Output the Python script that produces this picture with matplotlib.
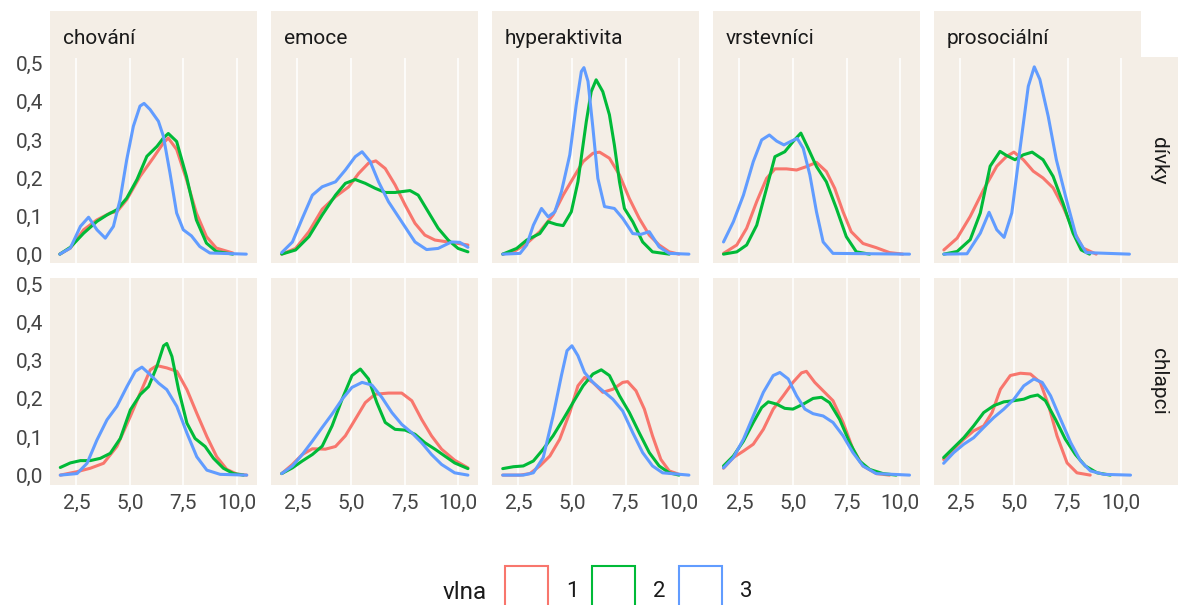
import matplotlib.pyplot as plt
from matplotlib.patches import Rectangle

plt.rcParams['font.family'] = ['Roboto', 'DejaVu Sans']

scales = ['chování', 'emoce', 'hyperaktivita', 'vrstevníci', 'prosociální']
groups = ['dívky', 'chlapci']
waves = ['1', '2', '3']
colors = ['#F8766D', '#00BA38', '#619CFF']
x_ticks = [2.5, 5.0, 7.5, 10.0]
y_ticks = [0.0, 0.1, 0.2, 0.3, 0.4, 0.5]

# --- dívky ---
d_chov_1x = [1.73, 2.22, 2.84, 3.46, 4.08, 4.4, 4.85, 5.47, 6.09, 6.56, 6.79, 7.18, 7.64, 8.1, 8.57, 9.03, 9.8]
d_chov_1y = [0.0, 0.016, 0.064, 0.09, 0.108, 0.112, 0.143, 0.204, 0.253, 0.292, 0.305, 0.275, 0.196, 0.108, 0.046, 0.016, 0.003]
d_chov_2x = [1.73, 2.22, 2.84, 3.46, 3.93, 4.4, 4.85, 5.33, 5.79, 6.26, 6.56, 6.79, 7.18, 7.64, 8.1, 8.57, 9.03, 9.8]
d_chov_2y = [0.0, 0.018, 0.055, 0.086, 0.103, 0.117, 0.147, 0.196, 0.257, 0.283, 0.305, 0.317, 0.296, 0.204, 0.09, 0.029, 0.007, 0.0]
d_chov_3x = [1.73, 2.22, 2.69, 3.07, 3.46, 3.85, 4.23, 4.54, 4.85, 5.16, 5.47, 5.66, 5.94, 6.33, 6.56, 6.87, 7.18, 7.49, 7.87, 8.26, 8.73, 10.43]
d_chov_3y = [0.0, 0.016, 0.073, 0.097, 0.064, 0.042, 0.073, 0.143, 0.248, 0.336, 0.389, 0.396, 0.38, 0.349, 0.31, 0.213, 0.108, 0.064, 0.048, 0.02, 0.003, 0.0]

d_emo_1x = [1.77, 2.42, 3.04, 3.66, 4.28, 4.9, 5.36, 5.82, 6.16, 6.6, 7.06, 7.53, 7.99, 8.45, 8.92, 9.53, 10.0, 10.46]
d_emo_1y = [0.0, 0.015, 0.059, 0.118, 0.151, 0.177, 0.212, 0.239, 0.245, 0.225, 0.182, 0.129, 0.081, 0.05, 0.037, 0.032, 0.028, 0.024]
d_emo_2x = [1.77, 2.42, 3.04, 3.66, 4.28, 4.74, 5.2, 5.67, 6.13, 6.6, 7.06, 7.76, 8.14, 8.61, 9.07, 9.54, 10.0, 10.46]
d_emo_2y = [0.0, 0.011, 0.046, 0.103, 0.155, 0.186, 0.196, 0.186, 0.173, 0.162, 0.162, 0.167, 0.155, 0.111, 0.068, 0.037, 0.015, 0.006]
d_emo_3x = [1.77, 2.27, 2.73, 3.2, 3.66, 4.28, 4.74, 5.2, 5.52, 5.9, 6.29, 6.75, 7.37, 7.99, 8.53, 9.07, 9.69, 10.08, 10.46]
d_emo_3y = [0.004, 0.032, 0.094, 0.155, 0.177, 0.19, 0.221, 0.256, 0.269, 0.243, 0.19, 0.138, 0.085, 0.032, 0.012, 0.015, 0.032, 0.031, 0.018]

d_hyp_1x = [1.77, 2.27, 2.89, 3.5, 4.12, 4.59, 5.05, 5.52, 5.98, 6.29, 6.75, 7.22, 7.68, 8.14, 8.61, 9.07, 9.54, 10.0]
d_hyp_1y = [0.0, 0.006, 0.028, 0.059, 0.103, 0.155, 0.199, 0.243, 0.265, 0.268, 0.252, 0.208, 0.146, 0.094, 0.05, 0.024, 0.006, 0.0]
d_hyp_2x = [1.77, 2.42, 2.89, 3.5, 3.89, 4.28, 4.59, 4.97, 5.28, 5.67, 5.9, 6.13, 6.44, 6.75, 6.98, 7.22, 7.45, 7.84, 8.3, 8.76, 9.54]
d_hyp_2y = [0.0, 0.015, 0.037, 0.054, 0.085, 0.078, 0.075, 0.111, 0.19, 0.348, 0.427, 0.458, 0.427, 0.366, 0.287, 0.19, 0.12, 0.085, 0.032, 0.006, 0.0]
d_hyp_3x = [1.77, 2.58, 2.89, 3.2, 3.58, 3.89, 4.2, 4.51, 4.9, 5.2, 5.44, 5.56, 5.75, 5.98, 6.21, 6.52, 6.98, 7.37, 7.84, 8.22, 8.61, 9.07, 9.54, 10.46]
d_hyp_3y = [0.0, 0.002, 0.024, 0.076, 0.12, 0.098, 0.111, 0.164, 0.261, 0.392, 0.48, 0.49, 0.454, 0.331, 0.199, 0.125, 0.12, 0.094, 0.054, 0.052, 0.059, 0.019, 0.002, 0.0]

d_vrs_1x = [1.76, 2.38, 2.84, 3.31, 3.77, 4.16, 4.7, 5.17, 5.63, 6.1, 6.56, 6.95, 7.34, 7.72, 8.27, 8.89, 9.51, 10.13]
d_vrs_1y = [0.002, 0.024, 0.068, 0.138, 0.199, 0.224, 0.224, 0.221, 0.23, 0.241, 0.217, 0.173, 0.111, 0.059, 0.028, 0.017, 0.004, 0.0]
d_vrs_2x = [1.76, 2.38, 2.84, 3.31, 3.77, 4.16, 4.62, 5.01, 5.37, 5.71, 6.1, 6.56, 7.03, 7.49, 7.96, 8.58]
d_vrs_2y = [0.0, 0.006, 0.024, 0.076, 0.173, 0.256, 0.269, 0.296, 0.318, 0.278, 0.23, 0.19, 0.12, 0.046, 0.006, 0.0]
d_vrs_3x = [1.76, 2.22, 2.69, 3.15, 3.54, 3.9, 4.24, 4.58, 4.93, 5.2, 5.48, 5.79, 6.1, 6.41, 6.87, 10.44]
d_vrs_3y = [0.032, 0.085, 0.155, 0.243, 0.3, 0.313, 0.297, 0.287, 0.297, 0.304, 0.278, 0.208, 0.111, 0.032, 0.002, 0.0]

d_pro_1x = [1.73, 2.35, 2.96, 3.58, 4.2, 4.66, 5.0, 5.44, 5.9, 6.36, 6.83, 7.29, 7.76, 8.22, 8.84]
d_pro_1y = [0.011, 0.042, 0.099, 0.169, 0.231, 0.257, 0.268, 0.248, 0.218, 0.2, 0.174, 0.125, 0.064, 0.016, 0.0]
d_pro_2x = [1.73, 2.35, 2.96, 3.43, 3.89, 4.35, 4.66, 5.05, 5.44, 5.85, 6.36, 6.83, 7.29, 7.76, 8.14, 8.53]
d_pro_2y = [0.0, 0.007, 0.038, 0.108, 0.231, 0.27, 0.259, 0.248, 0.261, 0.268, 0.248, 0.204, 0.134, 0.055, 0.011, 0.0]
d_pro_3x = [1.73, 2.81, 3.43, 3.84, 4.2, 4.54, 4.9, 5.28, 5.67, 5.95, 6.21, 6.6, 6.98, 7.45, 7.91, 8.37, 10.39]
d_pro_3y = [0.0, 0.001, 0.055, 0.11, 0.064, 0.044, 0.108, 0.275, 0.441, 0.492, 0.459, 0.362, 0.248, 0.143, 0.046, 0.004, 0.0]

# --- chlapci ---
c_chov_1x = [1.75, 2.53, 3.15, 3.77, 4.39, 5.02, 5.48, 5.95, 6.26, 6.72, 7.19, 7.66, 8.12, 8.59, 9.05, 9.52, 9.98, 10.45]
c_chov_1y = [0.0, 0.009, 0.018, 0.031, 0.075, 0.154, 0.215, 0.276, 0.287, 0.281, 0.272, 0.224, 0.162, 0.101, 0.048, 0.015, 0.003, 0.0]
c_chov_2x = [1.75, 2.22, 2.69, 3.15, 3.62, 4.08, 4.55, 5.02, 5.48, 5.87, 6.26, 6.57, 6.72, 6.96, 7.27, 7.66, 8.04, 8.51, 8.9, 9.36, 9.83, 10.3]
c_chov_2y = [0.02, 0.032, 0.038, 0.038, 0.044, 0.057, 0.096, 0.171, 0.211, 0.232, 0.285, 0.339, 0.345, 0.311, 0.224, 0.136, 0.096, 0.075, 0.044, 0.018, 0.004, 0.0]
c_chov_3x = [1.75, 2.53, 3.0, 3.46, 3.93, 4.39, 4.86, 5.25, 5.56, 5.95, 6.34, 6.72, 7.19, 7.66, 8.12, 8.59, 9.21, 10.45]
c_chov_3y = [0.0, 0.004, 0.031, 0.092, 0.145, 0.18, 0.232, 0.272, 0.283, 0.263, 0.241, 0.224, 0.18, 0.11, 0.048, 0.013, 0.002, 0.0]

c_emo_1x = [1.77, 2.27, 2.73, 3.2, 3.81, 4.28, 4.74, 5.2, 5.67, 6.13, 6.75, 7.37, 7.84, 8.3, 8.76, 9.23, 9.84, 10.46]
c_emo_1y = [0.004, 0.028, 0.054, 0.069, 0.068, 0.075, 0.103, 0.146, 0.19, 0.212, 0.215, 0.215, 0.195, 0.146, 0.103, 0.068, 0.039, 0.019]
c_emo_2x = [1.77, 2.27, 2.73, 3.2, 3.66, 4.12, 4.59, 5.05, 5.44, 5.82, 6.21, 6.6, 7.06, 7.53, 7.99, 8.45, 8.92, 9.38, 9.84, 10.46]
c_emo_2y = [0.004, 0.019, 0.037, 0.054, 0.076, 0.129, 0.199, 0.261, 0.278, 0.252, 0.19, 0.138, 0.12, 0.118, 0.107, 0.085, 0.068, 0.05, 0.032, 0.017]
c_emo_3x = [1.77, 2.27, 2.73, 3.2, 3.66, 4.12, 4.59, 5.05, 5.52, 5.98, 6.44, 6.91, 7.37, 7.84, 8.3, 8.76, 9.23, 9.84, 10.46]
c_emo_3y = [0.004, 0.024, 0.054, 0.089, 0.125, 0.16, 0.199, 0.23, 0.243, 0.236, 0.204, 0.164, 0.133, 0.111, 0.085, 0.054, 0.028, 0.006, 0.0]

c_hyp_1x = [1.77, 2.58, 3.04, 3.5, 3.97, 4.43, 4.9, 5.28, 5.59, 5.98, 6.44, 6.91, 7.37, 7.6, 7.99, 8.38, 8.76, 9.15, 9.54, 10.0]
c_hyp_1y = [0.0, 0.0, 0.004, 0.024, 0.05, 0.094, 0.164, 0.234, 0.256, 0.243, 0.217, 0.225, 0.243, 0.245, 0.221, 0.173, 0.103, 0.041, 0.011, 0.002]
c_hyp_2x = [1.77, 2.27, 2.73, 3.2, 3.66, 4.12, 4.59, 5.05, 5.52, 5.98, 6.37, 6.75, 7.22, 7.68, 8.14, 8.61, 9.07, 9.54, 10.0]
c_hyp_2y = [0.017, 0.022, 0.024, 0.037, 0.068, 0.103, 0.146, 0.19, 0.234, 0.265, 0.276, 0.261, 0.208, 0.164, 0.111, 0.059, 0.024, 0.006, 0.0]
c_hyp_3x = [1.77, 2.73, 3.2, 3.66, 4.12, 4.51, 4.77, 5.0, 5.28, 5.59, 5.98, 6.44, 6.91, 7.37, 7.84, 8.3, 8.76, 9.23, 10.46]
c_hyp_3y = [0.0, 0.0, 0.006, 0.046, 0.155, 0.261, 0.326, 0.339, 0.313, 0.269, 0.243, 0.221, 0.199, 0.168, 0.111, 0.059, 0.024, 0.006, 0.0]

c_vrs_1x = [1.76, 2.22, 2.69, 3.15, 3.62, 4.08, 4.55, 5.0, 5.4, 5.63, 6.02, 6.41, 6.87, 7.34, 7.8, 8.27, 8.89, 9.51]
c_vrs_1y = [0.018, 0.046, 0.063, 0.081, 0.12, 0.173, 0.208, 0.243, 0.268, 0.272, 0.243, 0.221, 0.195, 0.138, 0.068, 0.024, 0.004, 0.0]
c_vrs_2x = [1.76, 2.22, 2.69, 3.15, 3.54, 3.85, 4.24, 4.62, 5.0, 5.48, 5.94, 6.33, 6.71, 7.18, 7.65, 8.11, 8.58, 9.2, 9.82]
c_vrs_2y = [0.024, 0.05, 0.089, 0.138, 0.177, 0.192, 0.186, 0.175, 0.173, 0.186, 0.201, 0.204, 0.19, 0.146, 0.085, 0.037, 0.015, 0.004, 0.0]
c_vrs_3x = [1.76, 2.22, 2.69, 3.15, 3.62, 4.08, 4.39, 4.78, 5.17, 5.56, 5.94, 6.41, 6.87, 7.34, 7.8, 8.27, 8.89, 10.44]
c_vrs_3y = [0.019, 0.046, 0.094, 0.155, 0.217, 0.261, 0.269, 0.252, 0.208, 0.173, 0.161, 0.155, 0.138, 0.103, 0.059, 0.024, 0.004, 0.0]

c_pro_1x = [1.72, 2.19, 2.66, 3.12, 3.59, 3.98, 4.37, 4.83, 5.3, 5.77, 6.23, 6.62, 7.01, 7.48, 7.94, 8.56]
c_pro_1y = [0.041, 0.068, 0.094, 0.116, 0.129, 0.164, 0.225, 0.261, 0.267, 0.265, 0.243, 0.182, 0.103, 0.032, 0.006, 0.0]
c_pro_2x = [1.72, 2.19, 2.66, 3.12, 3.59, 4.06, 4.53, 5.0, 5.46, 5.77, 6.11, 6.47, 6.94, 7.4, 7.87, 8.33, 8.88, 9.5]
c_pro_2y = [0.046, 0.072, 0.098, 0.129, 0.164, 0.182, 0.192, 0.195, 0.199, 0.206, 0.21, 0.195, 0.146, 0.094, 0.054, 0.024, 0.006, 0.0]
c_pro_3x = [1.72, 2.19, 2.66, 3.12, 3.59, 4.06, 4.53, 5.0, 5.46, 5.93, 6.32, 6.71, 7.18, 7.65, 8.11, 8.57, 9.2, 10.44]
c_pro_3y = [0.031, 0.059, 0.081, 0.098, 0.125, 0.151, 0.173, 0.199, 0.234, 0.252, 0.243, 0.208, 0.146, 0.085, 0.037, 0.011, 0.002, 0.0]

curves = {
    ('dívky', 'chování'): [(d_chov_1x, d_chov_1y), (d_chov_2x, d_chov_2y), (d_chov_3x, d_chov_3y)],
    ('dívky', 'emoce'): [(d_emo_1x, d_emo_1y), (d_emo_2x, d_emo_2y), (d_emo_3x, d_emo_3y)],
    ('dívky', 'hyperaktivita'): [(d_hyp_1x, d_hyp_1y), (d_hyp_2x, d_hyp_2y), (d_hyp_3x, d_hyp_3y)],
    ('dívky', 'vrstevníci'): [(d_vrs_1x, d_vrs_1y), (d_vrs_2x, d_vrs_2y), (d_vrs_3x, d_vrs_3y)],
    ('dívky', 'prosociální'): [(d_pro_1x, d_pro_1y), (d_pro_2x, d_pro_2y), (d_pro_3x, d_pro_3y)],
    ('chlapci', 'chování'): [(c_chov_1x, c_chov_1y), (c_chov_2x, c_chov_2y), (c_chov_3x, c_chov_3y)],
    ('chlapci', 'emoce'): [(c_emo_1x, c_emo_1y), (c_emo_2x, c_emo_2y), (c_emo_3x, c_emo_3y)],
    ('chlapci', 'hyperaktivita'): [(c_hyp_1x, c_hyp_1y), (c_hyp_2x, c_hyp_2y), (c_hyp_3x, c_hyp_3y)],
    ('chlapci', 'vrstevníci'): [(c_vrs_1x, c_vrs_1y), (c_vrs_2x, c_vrs_2y), (c_vrs_3x, c_vrs_3y)],
    ('chlapci', 'prosociální'): [(c_pro_1x, c_pro_1y), (c_pro_2x, c_pro_2y), (c_pro_3x, c_pro_3y)],
}

W, H = 1178, 605
bg = '#F4EEE6'
fig = plt.figure(figsize=(W / 100, H / 100), dpi=100)


def box(x0, y0, x1, y1):
    # pixel box (top-left origin) -> figure fraction rect
    return [x0 / W, 1 - y1 / H, (x1 - x0) / W, (y1 - y0) / H]


fmt = lambda v: f'{v:.1f}'.replace('.', ',')
rows = [(57.5, 263.5), (278, 484.5)]

for r, grp in enumerate(groups):
    y0, y1 = rows[r]
    for c, sc in enumerate(scales):
        x0 = 50 + 221 * c
        ax = fig.add_axes(box(x0, y0, x0 + 207, y1))
        ax.set_facecolor(bg)
        for s in ax.spines.values():
            s.set_visible(False)
        for k, (xs, ys) in enumerate(curves[(grp, sc)]):
            ax.plot(xs, ys, color=colors[k], lw=2.2, solid_joinstyle='round', solid_capstyle='round')
        ax.set_xlim(1.27, 10.93)
        ax.set_ylim(-0.0246, 0.5166)
        ax.set_xticks(x_ticks)
        ax.set_yticks(y_ticks)
        ax.grid(axis='x', color='white', lw=1.1)
        ax.set_axisbelow(True)
        ax.tick_params(length=0, labelsize=15, labelcolor='#444444')
        ax.tick_params(axis='x', pad=7)
        ax.tick_params(axis='y', pad=5)
        if c == 0:
            ax.set_yticklabels([fmt(v) for v in y_ticks])
        else:
            ax.set_yticklabels([])
        if r == 1:
            ax.set_xticklabels([fmt(v) for v in x_ticks])
        else:
            ax.set_xticklabels([])
        # top strips
        if r == 0:
            fig.patches.append(Rectangle(box(x0, 11, x0 + 207, 57.5)[:2], 207 / W, 46.5 / H,
                                         transform=fig.transFigure, facecolor=bg, edgecolor='none'))
            fig.text((x0 + 13) / W, 1 - 43.5 / H, sc, fontsize=15, color='#1A1A1A', va='baseline')
    # right strips
    fig.patches.append(Rectangle(box(1140, y0, W, y1)[:2], (W - 1140) / W, (y1 - y0) / H,
                                 transform=fig.transFigure, facecolor=bg, edgecolor='none'))
    fig.text(1159 / W, 1 - (y0 + y1) / 2 / H, grp, fontsize=15, color='#1A1A1A',
             rotation=-90, ha='center', va='center')

# legend
fig.text(443 / W, 1 - 599 / H, 'vlna', fontsize=17.5, color='#1A1A1A', va='baseline')
for k, w in enumerate(waves):
    kx = 505 + 87 * k
    fig.patches.append(Rectangle((kx / W, 1 - 625 / H), 43 / W, 59 / H, transform=fig.transFigure,
                                 facecolor='none', edgecolor=colors[k], lw=1.5))
    fig.text((kx + 61) / W, 1 - 597 / H, w, fontsize=16, color='#1A1A1A', va='baseline')

fig.savefig('out.png', dpi=100)
